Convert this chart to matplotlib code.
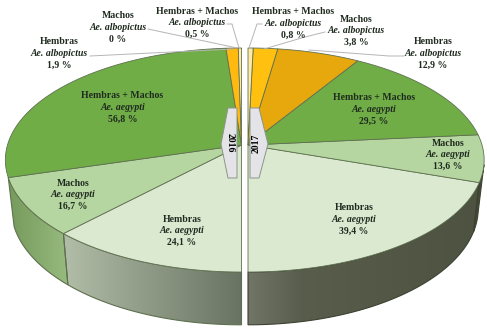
import numpy as np
import matplotlib
matplotlib.use("Agg")
import matplotlib.pyplot as plt
from matplotlib.patches import Polygon

plt.rcParams['font.family'] = ['Liberation Serif', 'DejaVu Serif']

# ---- data (each half of the disc is 100 %, listed from the front to the back)
categories = ["Hembras", "Machos", "Hembras + Machos", "Hembras", "Machos", "Hembras + Machos"]
species = ["Ae. aegypti", "Ae. aegypti", "Ae. aegypti", "Ae. albopictus", "Ae. albopictus", "Ae. albopictus"]
values_2016 = [24.1, 16.7, 56.8, 1.9, 0.0, 0.5]
values_2017 = [39.4, 13.6, 29.5, 12.9, 3.8, 0.8]
labels_2016 = ["24,1 %", "16,7 %", "56,8 %", "1,9 %", "0 %", "0,5 %"]
labels_2017 = ["39,4 %", "13,6 %", "29,5 %", "12,9 %", "3,8 %", "0,8 %"]
years = ["2016", "2017"]

# ---- styles and layout
top_2016 = ["#dbe9d0", "#b5d6a0", "#70ad47", "#ffb90f", "#ffb90f", "#ffe9a6"]
top_2017 = ["#dbe9d0", "#b5d6a0", "#70ad47", "#e6a80c", "#ffc010", "#ffe9a6"]
wall_2016 = [[(62, (178, 190, 168)), (241, (105, 115, 98))],
             [(10, (118, 155, 92)), (65, (150, 185, 125))]]
wall_2017 = [[(248, (112, 117, 102)), (300, (88, 93, 76)), (480, (78, 82, 64))],
             [(460, (66, 74, 56)), (487, (66, 74, 56))]]
wall_stop = {-1: 100, 1: 80}
wall_edge = {-1: "#5f7050", 1: "#3c4232"}
pos_2016 = [(182, 219), (73, 183), (122.5, 96), (59.5, 42), (118, 16), (197, 11)]
pos_2017 = [(354, 208), (448, 143), (374, 98), (433, 42), (356, 19), (293, 12)]
leaders = [[(90, 56), (233, 49)], [(148, 29), (237, 48)], [(227, 24), (232, 24), (239, 48)],
           [(262, 24), (257, 24), (249, 48)], [(325, 32), (305, 37), (264, 49)],
           [(404, 56), (389, 56), (309, 50)]]
tag_2016 = [(228, 108), (237, 108), (237, 178), (228, 178), (221, 144)]
tag_2017 = [(250, 108), (259, 108), (268, 144), (259, 178), (250, 178)]
text_dark = "#1f2a1f"
edge = "#5f7050"

CY, A, B, K = 145.0, 234.0, 110.0, 0.134
CX = {-1: 241.5, 1: 248.0}


def rim(side, theta):
    """Perspective view of the disc; theta is measured from the front point."""
    u, v = np.sin(theta), -np.cos(theta)
    w = 1 + K * v
    return CX[side] + side * A * u / w, CY - B * v / w


def floor(side, x, y):
    return CX[side] + 0.975 * (x - CX[side]), CY + (y - CY) * 1.04 + 47.7


def angles(values):
    edges = np.concatenate([[0], np.cumsum(values)])
    return edges / edges[-1] * np.pi


fig = plt.figure(figsize=(4.87, 3.33), dpi=100)
ax = fig.add_axes([0, 0, 1, 1])
ax.set_xlim(0, 487)
ax.set_ylim(333, 0)
ax.axis("off")


def draw_wall(side, t0, t1, stops):
    t = np.linspace(t0, t1, 80)
    x, y = rim(side, t)
    xb, yb = floor(side, x, y)
    pts = np.r_[np.c_[x, y], np.c_[xb, yb][::-1]]
    poly = Polygon(pts, closed=True, fc="none", ec=wall_edge[side], lw=0.8, zorder=2)
    ax.add_patch(poly)
    xs = np.arange(0, 488)
    sx = [s[0] for s in stops]
    grad = np.stack([np.interp(xs, sx, [s[1][c] for s in stops]) for c in range(3)], axis=-1) / 255
    im = ax.imshow(grad[None, :, :], extent=(0, 488, 333, 0), aspect="auto", zorder=1.5)
    im.set_clip_path(poly)
    ax.set_xlim(0, 487)
    ax.set_ylim(333, 0)


def draw_half(side, values, colors, walls):
    e = angles(values)
    stop = np.radians(wall_stop[side])
    for i, stops in enumerate(walls):
        t0, t1 = e[i], min(e[i + 1], stop)
        if t0 < t1:
            draw_wall(side, t0, t1, stops)
    for i, c in enumerate(colors):
        if values[i] <= 0:
            continue
        x, y = rim(side, np.linspace(e[i], e[i + 1], 80))
        pts = np.r_[[[CX[side], CY]], np.c_[x, y]]
        ax.add_patch(Polygon(pts, closed=True, fc=c, ec=edge, lw=0.6, zorder=3))


draw_half(-1, values_2016, top_2016, wall_2016)
draw_half(1, values_2017, top_2017, wall_2017)

for pts in leaders:
    p = np.array(pts)
    ax.plot(p[:, 0], p[:, 1], color="#b5b5b5", lw=0.7, zorder=4)

for pts, yr, rot, cx in zip([tag_2016, tag_2017], years, [-90, 90], [230.5, 256.5]):
    ax.add_patch(Polygon(pts, closed=True, fc="#e4e4e8", ec="#8c9488", lw=0.7, zorder=5))
    ax.text(cx, 143, yr, rotation=rot, ha="center", va="center", fontsize=7,
            fontweight="bold", color="black", zorder=6)

for labs, pos in [(labels_2016, pos_2016), (labels_2017, pos_2017)]:
    for cat, sp, lab, (x, y) in zip(categories, species, labs, pos):
        ax.text(x, y, cat, ha="center", va="center", fontsize=7,
                fontweight="bold", color=text_dark, zorder=7)
        ax.text(x, y + 11.5, sp, ha="center", va="center", fontsize=7, style="italic",
                fontweight="bold", color=text_dark, zorder=7)
        ax.text(x, y + 23, lab, ha="center", va="center", fontsize=7,
                fontweight="bold", color=text_dark, zorder=7)

fig.savefig("out.png", dpi=100, facecolor="white")
